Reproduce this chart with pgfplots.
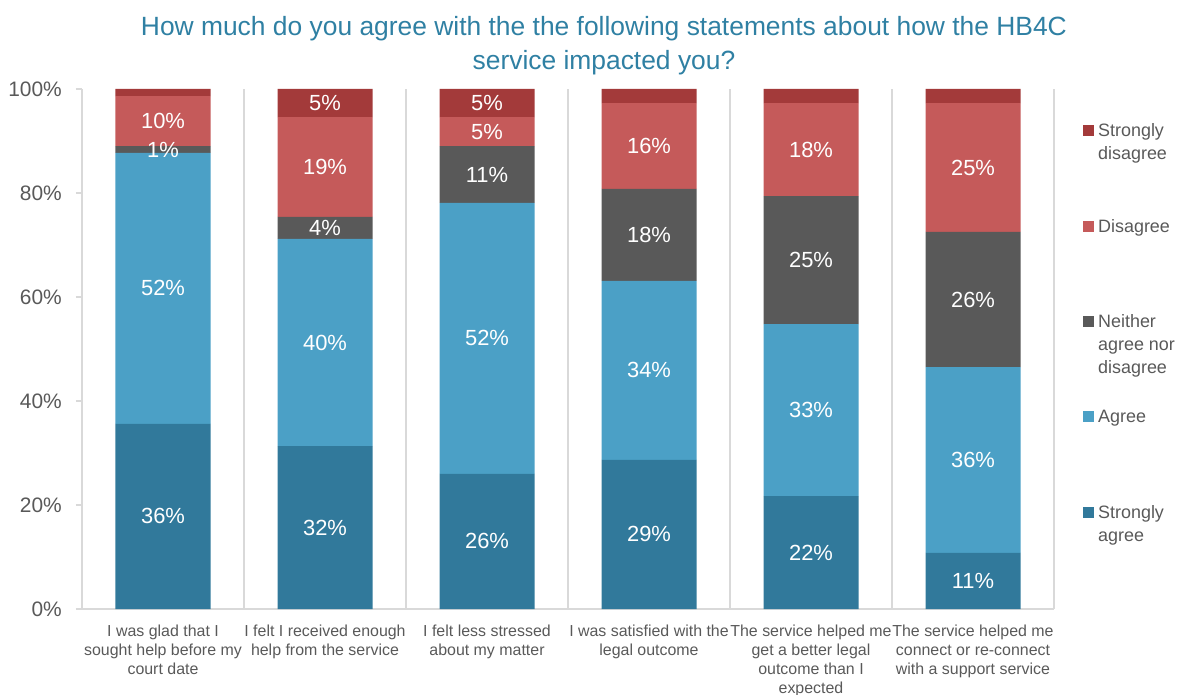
\documentclass[border=0pt]{standalone}
\usepackage{pgfplots}
\pgfplotsset{compat=1.18}
\usepackage{fontspec}
\setmainfont{Liberation Sans}
\definecolor{csa}{HTML}{31799B}
\definecolor{cag}{HTML}{4BA0C6}
\definecolor{cne}{HTML}{595959}
\definecolor{cdi}{HTML}{C55A5A}
\definecolor{csd}{HTML}{A33A3A}
\definecolor{ctitle}{HTML}{2F80A3}
\definecolor{ctext}{HTML}{595959}
\definecolor{cgrid}{HTML}{D9D9D9}
\pgfplotsset{
  seglabel/.style={
    nodes near coords,
    point meta=explicit symbolic,
    every node near coord/.append style={
      anchor=center, inner sep=0pt, text=white,
      font=\fontsize{22}{26}\selectfont}
  }
}
\begin{document}
\begin{tikzpicture}
\begin{axis}[
  at={(0,0)}, anchor=south west,
  scale only axis, width=972bp, height=520bp,
  ybar stacked, bar width=95bp,
  xmin=-0.5, xmax=5.5, ymin=0, ymax=100,
  axis x line*=bottom, axis y line*=left,
  axis line style={cgrid, line width=1.5bp},
  ytick={0,20,...,100},
  yticklabel={\pgfmathprintnumber{\tick}\%},
  /pgf/number format/assume math mode=true,
  yticklabel style={font=\fontsize{21}{24}\selectfont, text=ctext, inner sep=0pt, xshift=-14bp},
  ytick style={cgrid, line width=1.5bp},
  tick align=outside, major tick length=6bp,
  xtick={0,...,5},
  xticklabels={{I was glad that I\\sought help before my\\court date},
    {I felt I received enough\\help from the service},
    {I felt less stressed\\about my matter},
    {I was satisfied with the\\legal outcome},
    {The service helped me\\get a better legal\\outcome than I\\expected},
    {The service helped me\\connect or re-connect\\with a support service}},
  xticklabel style={align=center, font=\fontsize{16}{19}\selectfont, text=ctext, inner sep=0pt, anchor=north, yshift=-9.5bp},
  x tick style={draw=none},
  minor xtick={0.5,1.5,...,5.5},
  minor tick length=0pt,
  xminorgrids,
  minor grid style={cgrid, line width=1.5bp},
  title={How much do you agree with the the following statements about how the HB4C\\service impacted you?},
  title style={align=center, font=\fontsize{26.5}{34}\selectfont, text=ctitle, inner sep=0pt,
    anchor=north, at={(axis description cs:0.537,1)}, yshift=67bp},
  every axis plot post/.append style={
    legend image code/.code={\fill[##1,draw=none] (0bp,0.5bp) rectangle (11bp,11.5bp);}},
  legend reversed,
  legend style={at={(axis description cs:1.0298,0.9337)}, anchor=north west,
    draw=none, fill=none, inner sep=0pt, column sep=4bp, row sep=0pt,
    font=\fontsize{18}{23}\selectfont, text=ctext,
    nodes={inner sep=0pt, anchor=base west, text depth=, text height=}},
]
\addplot[fill=csa, draw=none, seglabel] coordinates {
  (0,35.6) [36\%] (1,31.3) [32\%] (2,26.0) [26\%] (3,28.7) [29\%] (4,21.7) [22\%] (5,10.8) [11\%]};
\addlegendentry{\parbox[t][95bp][t]{85bp}{Strongly\\agree}}
\addplot[fill=cag, draw=none, seglabel] coordinates {
  (0,52.1) [52\%] (1,39.9) [40\%] (2,52.1) [52\%] (3,34.4) [34\%] (4,33.1) [33\%] (5,35.7) [36\%]};
\addlegendentry{\parbox[t][95.5bp][t]{85bp}{Agree}}
\addplot[fill=cne, draw=none, seglabel] coordinates {
  (0,1.3) [1\%] (1,4.2) [4\%] (2,10.9) [11\%] (3,17.7) [18\%] (4,24.6) [25\%] (5,26.0) [26\%]};
\addlegendentry{\parbox[t][95.5bp][t]{85bp}{Neither\\agree nor\\disagree}}
\addplot[fill=cdi, draw=none, seglabel] coordinates {
  (0,9.65) [10\%] (1,19.2) [19\%] (2,5.6) [5\%] (3,16.5) [16\%] (4,17.9) [18\%] (5,24.8) [25\%]};
\addlegendentry{\parbox[t][95.5bp][t]{85bp}{Disagree}}
\addplot[fill=csd, draw=none, seglabel] coordinates {
  (0,1.35) [] (1,5.4) [5\%] (2,5.4) [5\%] (3,2.7) [] (4,2.7) [] (5,2.7) []};
\addlegendentry{\parbox[t][95.5bp][t]{85bp}{Strongly\\disagree}}
\end{axis}
\pgfresetboundingbox
\path[use as bounding box] (-82bp,-86bp) rectangle (1102bp,609bp);
\end{tikzpicture}
\end{document}
